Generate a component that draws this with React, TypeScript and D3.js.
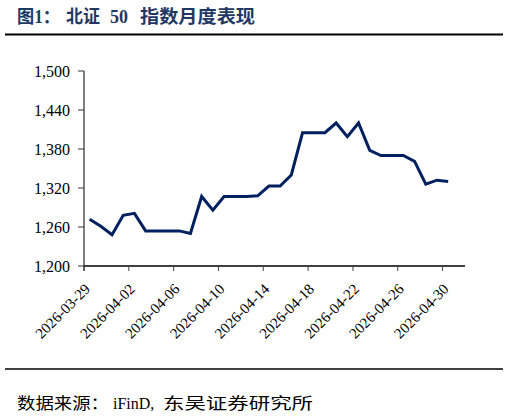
import React from "react";
import * as d3 from "d3";

const dates = [
  "2026-03-29", "2026-03-30", "2026-03-31", "2026-04-01", "2026-04-02", "2026-04-03",
  "2026-04-04", "2026-04-05", "2026-04-06", "2026-04-07", "2026-04-08", "2026-04-09",
  "2026-04-10", "2026-04-11", "2026-04-12", "2026-04-13", "2026-04-14", "2026-04-15",
  "2026-04-16", "2026-04-17", "2026-04-18", "2026-04-19", "2026-04-20", "2026-04-21",
  "2026-04-22", "2026-04-23", "2026-04-24", "2026-04-25", "2026-04-26", "2026-04-27",
  "2026-04-28", "2026-04-29", "2026-04-30",
];
const values = [
  1272, 1261, 1248, 1278, 1281, 1254,
  1254, 1254, 1254, 1250, 1307, 1286,
  1307, 1307, 1307, 1308, 1323, 1323,
  1340, 1405, 1405, 1405, 1420, 1399,
  1420, 1378, 1370, 1370, 1370, 1361,
  1326, 1332, 1330,
];
const xTickLabels = [
  "2026-03-29", "2026-04-02", "2026-04-06", "2026-04-10", "2026-04-14",
  "2026-04-18", "2026-04-22", "2026-04-26", "2026-04-30",
];
const yTicks = [1200, 1260, 1320, 1380, 1440, 1500];
const domainStart = "2026-03-29";
const domainEnd = "2026-05-02";

const parse = (s: string) => {
  const [y, m, d] = s.split("-").map(Number);
  return new Date(y, m - 1, d);
};

const SERIF = "'Liberation Serif', 'Times New Roman', 'Noto Sans CJK SC', serif";
const CJK = "'Liberation Serif', 'Noto Sans CJK SC', serif";

export default function App() {
  const W = 509, H = 417;
  const x = d3.scaleTime().domain([parse(domainStart), parse(domainEnd)]).range([84, 465]);
  const y = d3.scaleLinear().domain([1200, 1500]).range([266, 71]);
  const pts = dates.map((d, i) => ({ d: d3.timeHour.offset(parse(d), 12), v: values[i] }));
  const line = d3.line<{ d: Date; v: number }>().x((p) => x(p.d)).y((p) => y(p.v));
  const x0 = x.range()[0], x1 = x.range()[1];
  const yBase = y(1200);

  return (
    <svg width={W} height={H} style={{ position: "absolute", left: 0, top: 0, background: "#fff" }}>
      <rect x={0} y={0} width={W} height={H} fill="#fff" />
      {/* title */}
      <text y={23} fill="#1f3864" fontWeight="bold" fontSize={18} fontFamily={CJK}>
        <tspan x={17} textLength={43} lengthAdjust="spacingAndGlyphs">图1：</tspan>
        <tspan x={66} textLength={34} lengthAdjust="spacingAndGlyphs">北证</tspan>
        <tspan x={110}>50</tspan>
        <tspan x={140} textLength={115} lengthAdjust="spacingAndGlyphs">指数月度表现</tspan>
      </text>
      <line x1={5} x2={503} y1={34.5} y2={34.5} stroke="#000" strokeWidth={2} />

      {/* y axis */}
      <line x1={x0} x2={x0} y1={y(1500)} y2={yBase + 5} stroke="#7f7f7f" strokeWidth={2} />
      {yTicks.map((t) => (
        <g key={t}>
          <line x1={x0 - 6} x2={x0} y1={y(t)} y2={y(t)} stroke="#333" strokeWidth={1} />
          <text x={70} y={y(t)} dy="0.35em" textAnchor="end" fontSize={16} fontFamily={SERIF} fill="#000">
            {d3.format(",")(t)}
          </text>
        </g>
      ))}

      {/* x axis */}
      <line x1={x0} x2={x1} y1={yBase} y2={yBase} stroke="#000" strokeWidth={1.5} />
      {xTickLabels.map((lab) => {
        const tx = x(parse(lab));
        return (
          <g key={lab}>
            <line x1={tx} x2={tx} y1={yBase} y2={yBase + 5} stroke="#444" strokeWidth={1} />
            <text
              transform={`translate(${tx + 7},${yBase + 24}) rotate(-45)`}
              textAnchor="end"
              fontSize={15}
              fontFamily={SERIF}
              fill="#000"
            >
              {lab}
            </text>
          </g>
        );
      })}

      {/* series */}
      <path d={line(pts) || ""} fill="none" stroke="#002060" strokeWidth={3} strokeLinejoin="miter" />

      {/* footer */}
      <line x1={5} x2={503} y1={369} y2={369} stroke="#000" strokeWidth={1.5} />
      <text y={409} fontSize={16} fontFamily={CJK} fill="#000">
        <tspan x={17} textLength={92} lengthAdjust="spacingAndGlyphs">数据来源：</tspan>
        <tspan x={113}>iFinD,</tspan>
        <tspan x={163} textLength={150} lengthAdjust="spacingAndGlyphs">东吴证券研究所</tspan>
      </text>
    </svg>
  );
}
